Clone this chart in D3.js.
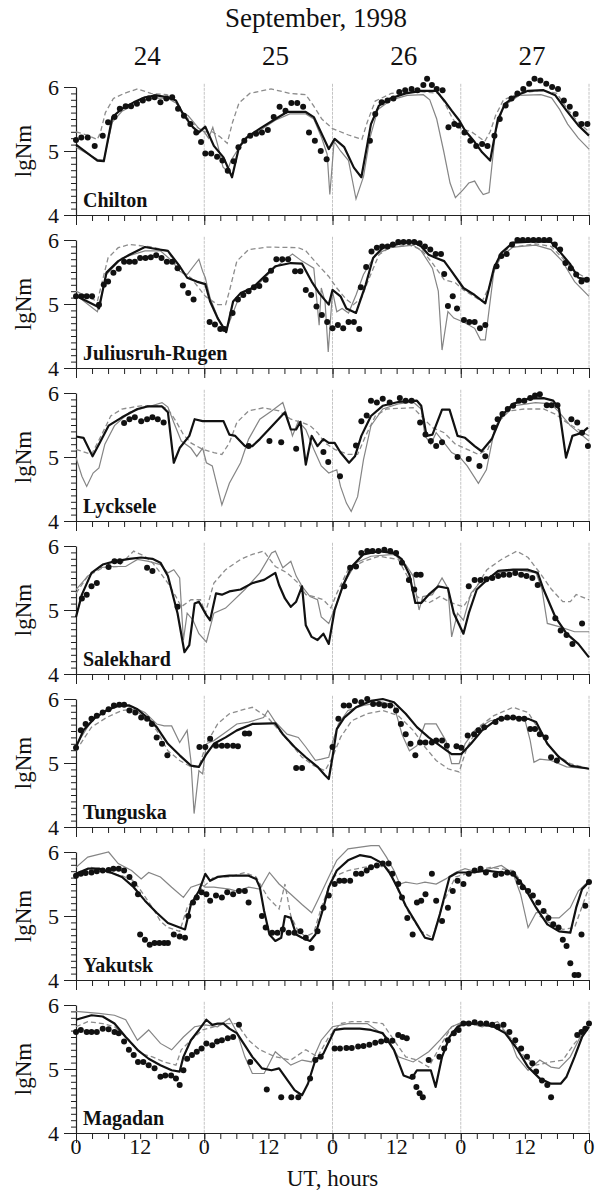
<!DOCTYPE html>
<html>
<head>
<meta charset="utf-8">
<script src="https://cdn.jsdelivr.net/npm/d3@7"></script>
<style>
  body { margin: 0; background: #fff; }
  text { font-family: "Liberation Serif", "Times New Roman", serif; fill: #111; }
</style>
</head>
<body>
<svg id="chart" width="597" height="1195"></svg>
<script>
// hours of the 4 days, values are lgNm
const dayLabels = ["24", "25", "26", "27"];
const hourLabels = [0, 12, 0, 12, 0, 12, 0, 12, 0];

// ---- Chilton
const chiltonObs = [[0,5.17],[1,5.21],[2.2,5.21],[3.5,5.08],[5,5.24],[6,5.45],[7.2,5.53],[8.2,5.66],[9.3,5.7],[10.3,5.7],[11.4,5.74],[12.5,5.79],[13.6,5.82],[14.7,5.84],[15.8,5.76],[16.9,5.82],[18,5.84],[19.1,5.66],[20.2,5.55],[21.4,5.42],[22.5,5.29],[23.4,5.14],[24.2,4.96],[25.3,4.96],[26.4,4.91],[27.4,4.85],[28.4,4.69],[29.5,4.84],[30.4,5.06],[31.5,5.16],[32.6,5.24],[33.7,5.27],[34.8,5.29],[35.9,5.33],[37,5.53],[38.1,5.69],[39.2,5.63],[40.3,5.75],[41.4,5.75],[42.5,5.69],[43.6,5.29],[44.7,5.16],[45.8,5.0],[46.9,4.87],[55,5.16],[56,5.58],[57.2,5.76],[58.3,5.79],[59.4,5.82],[60.5,5.92],[61.6,5.95],[62.8,5.97],[63.9,5.95],[65,6.03],[65.7,6.13],[66.6,6.03],[67.5,5.97],[68.6,5.95],[69.7,5.37],[70.8,5.42],[71.6,5.4],[72.7,5.29],[73.8,5.16],[74.9,5.08],[76,5.11],[77,5.08],[78.3,5.24],[79.3,5.5],[80.4,5.71],[81.5,5.82],[82.6,5.9],[83.7,5.97],[84.8,6.05],[85.8,6.13],[86.9,6.1],[88,6.05],[89.1,6.0],[90.2,5.97],[91.3,5.79],[92.4,5.69],[93.5,5.58],[94.6,5.42],[95.7,5.42]];
const chiltonThick = [[0,5.10],[4,4.85],[5.2,4.84],[6.8,5.53],[8.6,5.66],[10.8,5.76],[12.9,5.84],[15,5.87],[17.2,5.84],[18.7,5.79],[20,5.58],[21.9,5.37],[23,5.29],[24.2,5.38],[25.8,5.08],[27.6,4.90],[29.2,4.59],[30.5,5.06],[31.9,5.21],[34.4,5.35],[37.3,5.50],[39.5,5.61],[43,5.61],[44.5,5.53],[46.3,5.21],[47.3,5.03],[48.4,5.19],[50.2,5.06],[52,4.74],[53.4,4.59],[55.2,5.42],[56.7,5.71],[58.8,5.82],[61.7,5.90],[64.6,5.94],[67.4,5.94],[68.9,5.79],[70.3,5.63],[71.7,5.48],[72.8,5.32],[74.6,5.14],[76,4.98],[77.5,4.85],[78.9,5.48],[80.3,5.74],[82.5,5.87],[84.6,5.94],[87.5,5.95],[89.7,5.87],[91.8,5.63],[94,5.40],[96,5.24]];
const chiltonThin = [[0,5.06],[4,4.87],[5.2,4.86],[6.8,5.45],[8.6,5.62],[10.8,5.72],[12.9,5.8],[15,5.83],[17.2,5.82],[18.7,5.75],[20,5.6],[21,5.55],[22,5.45],[23,5.35],[24,5.3],[24.8,5.2],[25.6,5.37],[26.5,5.1],[27.5,4.75],[28.3,4.68],[29,4.85],[30.5,5.05],[32,5.2],[34.4,5.32],[37.3,5.48],[40,5.58],[43,5.58],[44.5,5.5],[46,5.2],[47,4.95],[47.5,4.32],[48.3,5.15],[49.5,5.0],[51,4.85],[52.4,4.25],[53.8,4.6],[55,5.2],[56.5,5.65],[59,5.8],[62,5.87],[65,5.88],[66.2,5.8],[67.5,5.5],[68.8,5.0],[70,4.5],[71,4.27],[72.5,4.4],[73.5,4.5],[74.6,4.53],[75.5,4.4],[76.2,4.32],[77.3,4.35],[78.5,5.3],[80,5.7],[83,5.87],[87,5.88],[89,5.83],[90.5,5.65],[92,5.42],[94,5.2],[96,5.03]];
const chiltonDash = [[0,5.3],[2,5.25],[4,5.18],[4.6,5.3],[5.5,5.6],[7,5.82],[9,5.9],[11.5,5.97],[14,5.9],[17,5.88],[18.5,5.8],[19.5,5.65],[21,5.5],[22.5,5.38],[24,5.3],[25.5,5.3],[27,5.22],[28.3,5.12],[29.3,5.45],[30.5,5.75],[32.5,5.9],[36.5,5.97],[40,5.9],[43,5.88],[44.5,5.7],[46,5.5],[48,5.35],[51,5.25],[53.5,5.18],[54.5,5.45],[56,5.78],[59,5.9],[64,5.93],[68,5.9],[69,5.75],[70.5,5.5],[72,5.35],[74,5.3],[76.5,5.15],[77.5,5.3],[78.5,5.55],[80,5.8],[83,5.9],[87,5.95],[90,5.9],[92,5.65],[94,5.45],[96,5.3]];

// ---- Juliusruh-Rugen
const juliusObs = [[0,5.12],[1,5.12],[2,5.12],[3,5.12],[4.3,4.99],[5.2,5.3],[6,5.35],[7,5.49],[8,5.55],[9,5.66],[10,5.66],[11,5.66],[12,5.72],[13,5.72],[14,5.73],[15,5.76],[16,5.72],[17,5.66],[18,5.66],[19,5.56],[20,5.29],[21,5.17],[22,5.07],[25,4.72],[26,4.68],[27,4.61],[27.8,4.61],[29.3,4.86],[30.3,5.07],[31.3,5.14],[32.3,5.2],[33.3,5.26],[34.3,5.28],[35.5,5.38],[36.5,5.52],[37.5,5.7],[38.6,5.7],[39.7,5.7],[41,5.51],[42,5.51],[43,5.22],[44,5.14],[45,4.96],[46,4.83],[47,4.72],[48,4.62],[49,4.67],[50,4.62],[51,4.72],[52,4.72],[53,4.61],[53.3,5.26],[54.3,5.58],[55.3,5.82],[56.3,5.88],[57.3,5.9],[58.3,5.9],[59.3,5.93],[60.3,5.97],[61.3,5.97],[62.3,5.97],[63.3,5.97],[64.3,5.95],[65.3,5.9],[66.3,5.85],[67.3,5.78],[68.3,5.78],[68.9,5.47],[69.6,4.97],[70.5,5.12],[71.3,4.93],[72.6,4.75],[73.6,4.72],[74.6,4.72],[75.6,4.62],[76.6,4.67],[78.7,5.59],[79.6,5.75],[80.6,5.78],[81.6,5.93],[82.6,6.0],[83.6,6.0],[84.6,6.0],[85.6,6.0],[86.6,6.0],[87.6,6.0],[88.6,6.0],[89.6,5.93],[90.6,5.85],[91.6,5.64],[92.6,5.56],[93.6,5.46],[94.6,5.35],[95.6,5.38]];
const juliusThick = [[0,5.13],[4,4.96],[4.3,4.93],[5.7,5.49],[7.9,5.67],[10,5.77],[12.9,5.89],[15,5.86],[17.2,5.83],[19.4,5.59],[20.8,5.41],[22.6,5.35],[24.2,5.31],[25.1,5.04],[26.5,4.78],[28.1,4.56],[29.4,5.04],[30.8,5.17],[33,5.25],[35,5.41],[37.3,5.59],[40.2,5.64],[42.3,5.63],[44.1,5.35],[45.5,5.17],[47.3,4.99],[48,5.22],[49.5,5.12],[50.6,4.93],[52.4,4.86],[54.2,5.3],[55.6,5.72],[57.4,5.88],[61,5.95],[63.1,5.97],[64.6,5.9],[66,5.77],[67.4,5.72],[68.9,5.67],[70.3,5.51],[72.5,5.25],[74.6,5.14],[76.6,5.01],[78.2,5.56],[79.6,5.8],[81.8,5.96],[86,5.98],[88.9,5.97],[90.4,5.83],[92.5,5.62],[94,5.41],[96,5.38]];
const juliusThin = [[0,5.14],[4,4.88],[5.7,5.46],[8.6,5.72],[12.9,5.83],[15.8,5.83],[18,5.67],[19.4,5.51],[20.8,5.46],[23,5.70],[23.7,5.51],[24.2,5.41],[25.1,5.09],[26.9,4.72],[28,4.57],[29,4.78],[30.4,5.08],[31.5,5.15],[34,5.3],[37,5.55],[40.5,5.78],[42.3,5.67],[44.5,5.56],[45.5,4.67],[45.9,5.25],[46.6,5.04],[47.2,4.25],[48,5.2],[48.8,4.88],[49.8,4.93],[51,4.86],[52.4,5.14],[53.8,5.46],[56,5.77],[58.8,5.88],[63.1,5.92],[64.6,5.83],[66.7,5.56],[67.8,5.2],[68.5,4.28],[69.6,4.88],[70.7,4.78],[72.5,4.72],[74.6,4.62],[75.7,4.44],[76.6,4.44],[78.2,5.51],[79.6,5.75],[81.8,5.89],[86,5.92],[88.9,5.85],[91,5.67],[93.3,5.35],[96,5.12]];
const juliusDash = [[0,5.2],[4,5.04],[6,5.72],[7.9,5.88],[10,5.93],[14.3,5.89],[17.2,5.83],[19.4,5.51],[21.5,5.41],[24.2,5.12],[26.5,4.99],[28,4.99],[28.7,5.2],[30.1,5.67],[32.3,5.85],[35.9,5.89],[41.6,5.88],[43,5.83],[45.2,5.62],[47.3,5.43],[48.8,5.25],[50.6,5.07],[51.9,4.99],[53.4,5.09],[54.9,5.41],[56.7,5.77],[58.8,5.89],[62.4,5.92],[64.6,5.85],[66.7,5.64],[68.9,5.38],[71,5.33],[72.5,5.22],[76,5.04],[77.5,5.3],[79,5.72],[81,5.88],[86,5.94],[88.9,5.9],[91,5.72],[93.3,5.51],[96,5.38]];

// ---- Lycksele
const lyckseleObs = [[9,5.53],[10,5.59],[11,5.62],[12.2,5.56],[13.3,5.59],[14.3,5.62],[15.3,5.59],[16.4,5.54],[32.3,5.17],[36.2,5.25],[38.4,5.23],[41.2,5.13],[46.3,5.08],[47.2,4.92],[49.4,4.7],[52.4,5.18],[53.4,5.56],[54.4,5.65],[55.2,5.88],[56.3,5.85],[57.4,5.91],[58.7,5.85],[60.6,5.92],[61.7,5.88],[62.8,5.88],[64.4,5.54],[65.4,5.35],[66.4,5.25],[67.4,5.17],[68.5,5.23],[71.4,5.0],[73.5,4.97],[75.5,4.86],[76.6,5.01],[78.2,5.46],[78.9,5.59],[79.8,5.67],[80.8,5.75],[81.8,5.8],[82.9,5.88],[83.9,5.88],[85,5.92],[85.9,5.96],[86.8,5.98],[88.1,5.81],[89,5.81],[90.1,5.81],[92.7,5.59],[93.8,5.54],[94.7,5.38],[95.8,5.17]];
const lyckseleThick = [[0,5.32],[1.4,5.30],[3.1,5.01],[4.3,5.2],[6.1,5.49],[8.6,5.62],[11.5,5.75],[13.3,5.79],[16.1,5.79],[17.2,5.7],[18.3,4.91],[19.4,5.14],[21.2,5.33],[22.2,5.59],[23.7,5.56],[25.5,5.56],[27.6,5.56],[28.7,5.35],[29.8,5.33],[31.6,5.17],[33,5.17],[34.4,5.28],[37.3,5.54],[39.1,5.7],[40.2,5.43],[41.2,5.43],[42,5.55],[43,4.88],[44.1,5.33],[45.2,5.17],[46.3,5.28],[47.3,5.22],[48.4,5.22],[49.5,5.07],[51.1,4.91],[52.2,5.01],[53.4,5.33],[55.2,5.64],[57.4,5.8],[60.3,5.86],[63.8,5.88],[64.6,5.8],[65.6,5.33],[66.7,5.35],[68.5,5.74],[69.9,5.74],[71.4,5.33],[72.8,5.3],[74.6,5.17],[75.9,5.09],[77.8,5.28],[79.6,5.64],[81.8,5.83],[84.6,5.91],[87.5,5.92],[89.3,5.88],[90.4,5.75],[91.7,4.99],[92.9,5.33],[94.7,5.38],[95.8,5.46]];
const lyckseleThin = [[0,4.99],[1.1,4.7],[2,4.54],[3.2,4.75],[4.3,4.83],[5.4,5.2],[7.2,5.49],[10,5.7],[12.9,5.77],[16.1,5.85],[17.2,5.78],[18.3,5.54],[19.7,5.25],[21.5,5.14],[22.6,5.01],[23.7,5.14],[24.4,4.91],[25.5,4.86],[27.3,4.25],[28.7,4.59],[30.8,4.91],[32.3,5.28],[34.4,5.59],[36.6,5.72],[38.7,5.85],[39.5,5.64],[40.5,5.33],[41.6,5.56],[43,5.43],[44.5,5.12],[45.9,4.86],[47.3,4.75],[48.8,4.8],[49.5,4.54],[50.6,4.28],[51.5,4.15],[52.7,4.38],[53.8,4.96],[55.2,5.49],[57.4,5.75],[60.3,5.83],[63.1,5.86],[64.6,5.75],[65.3,5.33],[66.4,5.2],[67.4,5.38],[68.9,5.22],[70.3,5.07],[71.7,5.01],[73.2,4.86],[75.3,4.59],[76.8,4.8],[78.2,5.38],[79.6,5.64],[81.8,5.8],[86,5.85],[88.9,5.83],[90.4,5.7],[92.5,5.49],[96,5.25]];
const lyckseleDash = [[0,5.12],[2.9,5.04],[4.7,5.33],[6.5,5.64],[8.6,5.75],[12.2,5.8],[15.8,5.8],[17.2,5.75],[18.7,5.56],[20.1,5.35],[21.5,5.22],[23.7,5.12],[25.8,5.07],[27.3,5.04],[28.7,5.22],[30.1,5.54],[32.3,5.72],[35.1,5.77],[38,5.72],[40.2,5.59],[42.3,5.54],[43.8,5.49],[45.2,5.38],[46.6,5.22],[48.4,5.12],[50.9,5.04],[52.7,5.04],[54.2,5.33],[56,5.64],[58.1,5.75],[63.1,5.77],[64.6,5.64],[66.7,5.46],[68.9,5.38],[71,5.2],[73.2,5.12],[75.3,5.04],[77.1,5.12],[78.9,5.54],[81.1,5.72],[83.9,5.75],[87.5,5.75],[89.7,5.67],[91.8,5.54],[94,5.43],[96,5.33]];

// ---- Salekhard
const salekhardObs = [[1.1,5.18],[2,5.24],[2.9,5.37],[3.9,5.42],[6.1,5.67],[7.2,5.76],[8.2,5.76],[13.3,5.66],[14.3,5.61],[19,5.05],[50.2,5.37],[51.3,5.66],[52.4,5.68],[53.4,5.89],[54.5,5.92],[55.5,5.92],[56.6,5.92],[57.7,5.94],[58.8,5.92],[59.9,5.89],[61,5.74],[62.3,5.47],[63.3,5.32],[63.7,5.55],[64.5,5.55],[73.5,5.37],[74.6,5.47],[75.7,5.47],[76.8,5.48],[77.9,5.5],[79,5.53],[80,5.55],[81.1,5.55],[82.2,5.58],[83.3,5.55],[84.3,5.53],[85.4,5.5],[86.4,5.39],[89.7,4.87],[90.7,4.68],[91.8,4.61],[92.9,4.47],[94.7,4.79]];
const salekhardThick = [[0,4.89],[1.1,5.24],[2.9,5.58],[5,5.71],[7.2,5.76],[10,5.8],[12.2,5.82],[14.3,5.8],[15.8,5.74],[17.2,5.53],[19,4.95],[20.3,4.34],[21.2,4.45],[22.2,5.1],[23,5.13],[24.4,4.92],[25.1,4.84],[26.2,5.26],[27.3,5.24],[28.7,5.29],[30.8,5.32],[33,5.42],[35.2,5.47],[37.3,5.58],[38,5.39],[39.1,5.18],[40.2,5.05],[41.2,5.13],[42.3,5.37],[43,4.76],[44.1,4.58],[45.2,4.53],[46.3,4.63],[47.3,4.47],[48.4,5.0],[49.9,5.37],[51.6,5.68],[53.8,5.87],[56.7,5.92],[59.5,5.89],[61,5.79],[62.4,5.55],[63.5,5.11],[64.6,5.11],[66,5.24],[67.8,5.37],[69.6,5.34],[70.7,4.95],[72.5,4.63],[73.5,4.95],[75,5.32],[76.9,5.47],[79,5.61],[81.8,5.63],[84.6,5.63],[86.4,5.58],[87.5,5.32],[89.7,4.89],[91.8,4.63],[94,4.47],[96,4.26]];
const salekhardThin = [[0,5.32],[2.2,5.53],[4.3,5.66],[6.5,5.68],[9.3,5.68],[11.5,5.79],[13.6,5.76],[15.8,5.71],[17.2,5.58],[18.3,5.63],[19.4,5.5],[20.1,4.53],[20.8,4.95],[21.9,4.84],[23,4.63],[24.4,4.5],[25.8,4.95],[28,5.03],[31.6,5.32],[34.4,5.58],[36.6,5.89],[37.3,5.92],[38.7,5.66],[40.2,5.76],[41.2,5.53],[42.3,5.37],[43.8,5.21],[45.2,5.16],[45.9,4.89],[47.3,4.79],[48.8,5.11],[50.2,5.42],[52.4,5.74],[55.2,5.84],[59.5,5.87],[61.7,5.71],[63.1,5.53],[64.2,5.0],[64.9,5.21],[66.7,5.24],[68.5,5.5],[69.6,5.34],[70.3,4.58],[71.4,4.95],[72.5,4.84],[73.9,5.26],[76,5.47],[78.9,5.58],[82.5,5.63],[86.1,5.58],[87.2,5.32],[88.2,4.79],[90.4,4.74],[93.3,4.66],[96,4.66]];
const salekhardDash = [[0,5.26],[2.2,5.53],[5,5.66],[7.9,5.68],[10.8,5.92],[12.9,5.84],[14.3,5.74],[15.8,5.58],[17.2,5.42],[18.7,5.21],[19.7,5.05],[21.5,5.16],[23.3,5.16],[24.2,4.95],[25.8,5.42],[28,5.63],[30.8,5.79],[33,5.87],[35.1,5.92],[37.3,5.68],[39.5,5.58],[41.6,5.42],[43,5.24],[44.5,5.21],[46.3,5.16],[47.7,5.03],[48.8,5.26],[50.9,5.63],[53.8,5.76],[56.7,5.84],[60.3,5.79],[62.4,5.47],[63.8,5.21],[66,5.11],[68.1,5.21],[70.3,5.11],[72.5,5.05],[74.6,5.32],[76.9,5.63],[79.6,5.79],[82.5,5.92],[84.6,5.82],[86.8,5.58],[89,5.32],[91.1,5.13],[92.5,5.13],[93.6,5.24],[96,5.16]];

// ---- Tunguska
const tunguskaObs = [[0,5.24],[0.9,5.51],[1.8,5.61],[2.9,5.69],[3.9,5.74],[5,5.79],[6.1,5.84],[7.1,5.9],[8.1,5.91],[9,5.91],[10,5.82],[11.1,5.79],[12.2,5.71],[13.3,5.69],[14.2,5.61],[15.1,5.4],[16.1,5.3],[17.1,5.12],[23.1,5.25],[24.2,5.25],[25.1,5.38],[26.2,5.27],[27.3,5.27],[28.3,5.27],[29.4,5.27],[30.3,5.26],[31.6,5.46],[32.4,5.46],[41.2,4.92],[42.3,4.92],[48,5.25],[49.1,5.69],[50.1,5.9],[51.1,5.9],[52.2,5.97],[53.4,5.95],[54.5,6.0],[55.6,5.92],[56.7,5.92],[57.7,5.9],[58.8,5.9],[59.9,5.82],[60.8,5.61],[61.7,5.45],[62.6,5.3],[63.5,5.12],[64.4,5.32],[65.4,5.32],[66.6,5.32],[67.4,5.35],[68.5,5.35],[69.4,5.27],[71.2,5.26],[72.1,5.24],[73.3,5.43],[74.5,5.45],[75.3,5.51],[76.4,5.56],[78.5,5.64],[79.6,5.69],[80.7,5.71],[81.8,5.71],[82.9,5.69],[83.9,5.69],[85,5.53],[85.9,5.53],[86.8,5.45],[87.9,5.4],[88.9,5.09],[90,5.04]];
const tunguskaThick = [[0,5.25],[1.4,5.51],[3.6,5.71],[5.7,5.82],[7.9,5.9],[10,5.9],[11.5,5.84],[12.9,5.74],[15.1,5.56],[17.2,5.3],[19.4,5.12],[21.5,4.96],[23,4.94],[24.4,5.14],[25.8,5.3],[28,5.4],[30.1,5.51],[33,5.61],[36.6,5.62],[37.3,5.62],[38.7,5.45],[40.9,5.25],[43,5.09],[45.2,4.94],[46.6,4.81],[47.3,4.75],[48,5.09],[48.8,5.53],[50.2,5.71],[52.4,5.87],[55.2,5.97],[57.4,6.0],[59.5,5.95],[61.7,5.77],[63.8,5.56],[66,5.4],[68.1,5.27],[70.3,5.14],[72.1,5.14],[73.9,5.3],[76,5.51],[78.9,5.69],[82.5,5.71],[84.6,5.69],[86.1,5.64],[88.2,5.3],[90.4,5.09],[92.5,4.96],[96,4.91]];
const tunguskaThin = [[0,5.27],[2.9,5.66],[5.7,5.82],[8.6,5.9],[10.8,5.87],[12.9,5.79],[15.1,5.61],[16.5,5.58],[17.9,5.58],[19.4,5.32],[20.8,5.51],[21.5,5.04],[22.1,4.21],[23,4.88],[23.7,4.83],[24.4,5.3],[25.8,5.35],[28,5.48],[30.1,5.61],[32.3,5.64],[35.1,5.71],[35.9,5.82],[37.3,5.64],[39.5,5.45],[41.6,5.4],[43,5.25],[44.8,5.04],[45.9,5.06],[47.3,5.09],[48,5.32],[49.1,5.61],[50.9,5.82],[53.8,5.9],[57.4,5.95],[59.5,5.9],[61,5.45],[62.4,5.19],[63.8,5.27],[65.3,5.61],[67.4,5.61],[69.2,5.35],[70.3,4.99],[71.7,4.99],[72.8,5.3],[74.6,5.51],[77.5,5.66],[81.8,5.71],[83.9,5.71],[85,5.35],[85.7,5.01],[86.8,5.06],[88.9,5.04],[91.8,4.94],[96,4.91]];
const tunguskaDash = [[0,5.19],[2.9,5.56],[5.7,5.71],[8.6,5.82],[10.8,5.84],[12.9,5.71],[15.1,5.51],[17.2,5.19],[19.4,5.04],[21.5,4.94],[23,4.94],[24.4,5.3],[26.5,5.61],[28.7,5.77],[31.6,5.84],[33,5.87],[35.9,5.71],[38,5.51],[40.2,5.3],[42.3,5.09],[44.5,4.96],[46.6,4.88],[48,5.09],[49.5,5.4],[51.6,5.66],[54.5,5.77],[57.4,5.82],[60.3,5.74],[63.1,5.51],[65.3,5.25],[67.4,5.04],[69.6,4.91],[71.7,4.86],[73.2,5.25],[75.3,5.56],[78.2,5.74],[81.8,5.87],[84.6,5.79],[87.5,5.4],[89.7,5.14],[92.5,4.99],[96,4.91]];

// ---- Yakutsk
const yakutskObs = [[0,5.63],[0.9,5.66],[1.8,5.67],[2.9,5.68],[3.9,5.7],[5,5.71],[6.1,5.72],[7,5.74],[8,5.74],[9,5.71],[10,5.61],[10.9,5.5],[11.6,5.34],[12,4.71],[12.9,4.63],[13.8,4.55],[14.7,4.58],[15.6,4.58],[16.5,4.58],[17.2,4.58],[18.3,4.71],[19.4,4.68],[20.4,4.66],[21,5.0],[21.9,5.21],[22.6,5.29],[23.5,5.37],[24.4,5.34],[25.1,5.24],[26.2,5.32],[27.3,5.29],[28.3,5.37],[29.4,5.34],[30.5,5.39],[31.6,5.39],[32.3,5.21],[34.8,5.0],[35.5,4.82],[36.7,4.74],[37.7,4.74],[38.7,4.79],[39.8,4.74],[40.9,4.74],[42,4.76],[43,4.66],[44.1,4.5],[45.2,4.76],[46.3,5.13],[47.3,5.32],[48.4,5.5],[49.3,5.55],[50.2,5.55],[51.3,5.55],[52.4,5.66],[53.4,5.66],[54.4,5.71],[55.2,5.76],[56.3,5.79],[57.4,5.82],[58.5,5.82],[59.2,5.66],[60.3,5.5],[61,5.29],[62,4.97],[63,4.71],[63.8,5.21],[64.6,5.24],[65.4,5.34],[66.6,5.66],[67.4,5.24],[68.5,4.92],[69.6,5.13],[70.5,5.39],[71.4,5.55],[72.5,5.5],[73.5,5.66],[74.6,5.71],[75.7,5.74],[76.7,5.68],[78.5,5.64],[79.6,5.66],[80.7,5.68],[81.8,5.66],[82.9,5.53],[83.6,5.45],[84.6,5.39],[85.5,5.32],[86.5,5.21],[87.5,5.08],[88.4,4.97],[89.3,4.87],[90.3,4.82],[91.1,4.63],[91.8,4.53],[92.5,4.26],[93.3,4.08],[94,4.08],[94.6,4.71],[95.3,5.16],[96,5.53]];
const yakutskThick = [[0,5.66],[2.2,5.74],[4.3,5.74],[6.5,5.68],[8.6,5.61],[10.8,5.45],[12.9,5.24],[15.1,5.05],[17.2,4.89],[19.4,4.82],[20.4,4.79],[21.5,5.18],[23,5.39],[24.2,5.66],[25.1,5.55],[26.5,5.61],[28.7,5.63],[32.3,5.63],[33.7,5.58],[34.4,5.45],[35.2,5.08],[36.2,4.71],[37.3,4.61],[38.4,4.66],[39.1,5.0],[40.2,4.97],[41.2,4.71],[42.3,4.66],[43.8,4.61],[44.8,4.71],[46.3,5.13],[47.3,5.45],[48.8,5.71],[50.9,5.87],[53.1,5.95],[55.2,5.92],[57.4,5.82],[58.8,5.66],[60.3,5.42],[61.7,5.16],[63.8,4.87],[65.3,4.66],[66.7,4.63],[68.1,5.03],[69.9,5.61],[71.4,5.68],[73.9,5.68],[76.8,5.71],[79.6,5.68],[81.8,5.66],[83.9,5.45],[86.1,5.13],[88.2,4.87],[90.4,4.76],[92.5,4.74],[93.6,5.13],[94.7,5.42],[96,5.53]];
const yakutskThin = [[0,5.76],[2.2,5.92],[6.1,6.0],[7.9,5.82],[10.4,5.71],[12.2,5.58],[13.6,5.68],[15.8,5.61],[17.9,5.45],[20.1,5.29],[21.5,5.45],[23.3,5.5],[24.2,5.45],[25.8,5.45],[28.7,5.42],[30.1,5.39],[32.3,5.45],[34.4,5.42],[36.2,5.68],[38,5.5],[40.2,5.34],[42.3,5.18],[44.1,5.05],[45.2,5.24],[47.3,5.61],[48.8,5.87],[50.9,6.05],[55.2,6.1],[56.7,6.1],[58.1,5.92],[59.5,5.71],[60.6,5.5],[61.7,5.53],[63.8,5.5],[65.3,5.53],[67.4,5.5],[69.2,5.58],[71,5.68],[72.8,5.74],[75.3,5.68],[77.5,5.74],[79.6,5.79],[81.8,5.66],[83.2,5.34],[84.6,4.82],[86.1,5.05],[87.5,5.08],[89,4.97],[90.4,4.97],[92.5,5.13],[94,5.39],[96,5.55]];
const yakutskDash = [[0,5.66],[2.9,5.76],[5.7,5.68],[8.6,5.63],[10.8,5.55],[12.2,5.39],[14.3,5.13],[15.8,4.92],[17.2,4.82],[19.4,4.76],[20.8,5.13],[23,5.39],[25.8,5.61],[28.7,5.61],[31.6,5.68],[33.7,5.61],[35.9,5.29],[38,5.11],[39.1,5.5],[40.2,5.0],[41.6,4.76],[43,4.68],[44.5,4.74],[45.9,5.13],[48,5.61],[50.9,5.71],[53.8,5.76],[56.7,5.79],[58.8,5.71],[60.3,5.39],[62.4,5.03],[64.6,4.76],[66.7,4.66],[68.9,5.24],[71,5.61],[73.9,5.68],[77.5,5.76],[81.8,5.71],[84.6,5.39],[86.8,5.0],[89,4.87],[91.1,4.79],[93.3,4.82],[96,5.45]];

// ---- Magadan
const magadanObs = [[0,5.58],[0.9,5.61],[2,5.58],[2.9,5.58],[3.9,5.58],[5,5.63],[6.1,5.62],[7.2,5.58],[8,5.56],[9,5.43],[9.9,5.3],[10.8,5.22],[11.6,5.11],[12.6,5.11],[13.6,5.06],[14.7,5.01],[15.8,4.88],[16.7,4.9],[17.8,4.9],[18.7,4.85],[19.4,4.75],[20.1,4.98],[20.8,5.16],[21.7,5.22],[22.6,5.27],[23.5,5.32],[24.4,5.4],[25.5,5.37],[26.4,5.43],[27.3,5.45],[28.4,5.48],[29.4,5.5],[30.5,5.69],[32.6,5.11],[35.7,4.68],[38.4,4.56],[40.3,4.56],[41.6,4.56],[43.8,4.85],[44.8,5.14],[45.8,5.19],[48.4,5.32],[49.4,5.32],[50.6,5.33],[51.6,5.33],[52.8,5.35],[53.8,5.36],[54.9,5.38],[56,5.41],[57.1,5.43],[58.1,5.45],[59.2,5.44],[60.3,5.53],[61.1,5.5],[61.9,5.48],[63,4.88],[63.7,4.72],[64.3,4.62],[64.9,4.56],[66,5.14],[68,5.19],[68.9,5.32],[69.6,5.45],[70.7,5.56],[71.6,5.61],[72.5,5.71],[73.5,5.71],[74.6,5.73],[75.7,5.71],[76.8,5.71],[77.9,5.69],[78.9,5.66],[80,5.69],[81.1,5.58],[82.2,5.45],[83.3,5.32],[84.4,5.19],[85.4,5.09],[86.1,4.96],[87.2,4.82],[88.2,4.75],[88.9,4.56],[93.8,5.53],[94.6,5.58],[95.3,5.63],[96,5.71]];
const magadanThick = [[0,5.77],[2.9,5.84],[5,5.82],[7.2,5.71],[9.3,5.5],[11.5,5.3],[13.6,5.16],[15.8,5.06],[17.9,4.98],[19.4,4.96],[20.1,5.19],[21.5,5.45],[23,5.61],[24.4,5.77],[25.5,5.69],[26.5,5.71],[27.6,5.71],[28.7,5.63],[30.1,5.56],[31.6,5.37],[33,5.19],[34.8,5.01],[36.6,4.98],[38,5.01],[39.1,4.88],[40.9,4.67],[42.3,4.59],[43.4,4.77],[44.8,5.14],[46.3,5.24],[48.4,5.61],[50.2,5.63],[53.1,5.63],[55.2,5.61],[57.4,5.56],[59.5,5.3],[61.3,4.9],[62.8,4.85],[63.8,4.98],[65.3,4.98],[66.4,4.98],[67.3,4.72],[68.5,5.19],[69.9,5.5],[71.4,5.66],[72.8,5.71],[75.3,5.71],[78.2,5.66],[80.3,5.56],[82.5,5.32],[84.6,5.03],[86.8,4.85],[88.9,4.77],[90.7,4.77],[91.8,4.88],[93.3,5.19],[94.7,5.5],[96,5.66]];
const magadanThin = [[0,5.9],[4.3,5.87],[7.2,5.84],[9.3,5.77],[11.5,5.45],[13.6,5.61],[15.8,5.4],[17.9,5.3],[20.1,5.5],[22.2,5.66],[24.2,5.69],[26.5,5.66],[28.7,5.79],[30.1,5.58],[31.6,5.19],[33,4.93],[35.2,4.93],[37.3,5.27],[40.2,5.06],[42.3,5.14],[44.1,5.11],[45.9,5.45],[48,5.66],[50.9,5.71],[54.5,5.71],[58.1,5.5],[60.3,5.19],[63.1,5.11],[66,5.27],[68.1,5.45],[70.3,5.66],[72.5,5.74],[76,5.66],[78.9,5.74],[81.1,5.5],[82.5,5.19],[84.6,4.98],[86.8,5.14],[88.9,5.03],[90.4,5.01],[92.5,5.19],[94.7,5.56],[96,5.69]];
const magadanDash = [[0,5.66],[2.2,5.74],[5,5.71],[7.2,5.66],[10,5.45],[12.2,5.24],[14.3,5.19],[16.5,5.11],[18.7,5.06],[19.7,5.3],[21.5,5.45],[23.7,5.61],[25.8,5.66],[28,5.71],[30.1,5.71],[32.3,5.45],[34.4,5.3],[37.3,5.19],[40.2,5.14],[43,5.3],[45.2,5.19],[47.3,5.5],[49.5,5.71],[51.6,5.74],[54.5,5.74],[57.4,5.71],[59.5,5.45],[61.7,5.19],[63.8,5.14],[66,5.03],[68.1,5.35],[70.3,5.66],[73.2,5.74],[76,5.71],[78.9,5.69],[81.8,5.45],[83.9,5.19],[86.1,5.06],[88.9,5.11],[91.1,5.14],[93.3,5.4],[96,5.66]];

const stations = [
  {name: "Chilton",         obs: chiltonObs,   thick: chiltonThick,   thin: chiltonThin,   dash: chiltonDash},
  {name: "Juliusruh-Rugen", obs: juliusObs,    thick: juliusThick,    thin: juliusThin,    dash: juliusDash},
  {name: "Lycksele",        obs: lyckseleObs,  thick: lyckseleThick,  thin: lyckseleThin,  dash: lyckseleDash},
  {name: "Salekhard",       obs: salekhardObs, thick: salekhardThick, thin: salekhardThin, dash: salekhardDash},
  {name: "Tunguska",        obs: tunguskaObs,  thick: tunguskaThick,  thin: tunguskaThin,  dash: tunguskaDash},
  {name: "Yakutsk",         obs: yakutskObs,   thick: yakutskThick,   thin: yakutskThin,   dash: yakutskDash},
  {name: "Magadan",         obs: magadanObs,   thick: magadanThick,   thin: magadanThin,   dash: magadanDash},
];

// layout: top of each panel (lgNm = 6), panel height for 4..6
const frame = {left: 76, right: 589, top: 87, step: 153, height: 128};
const x = d3.scaleLinear([0, 96], [frame.left, frame.right]);

const svg = d3.select("#chart");

svg.append("text").text("September, 1998")
  .attr("x", 316).attr("y", 27)
  .attr("text-anchor", "middle")
  .style("font-size", "27px");

svg.selectAll("text.day").data(dayLabels).join("text")
  .attr("class", "day")
  .attr("x", (d, i) => x(i * 24 + 12) + 7)
  .attr("y", 65)
  .attr("text-anchor", "middle")
  .style("font-size", "27px")
  .text(d => d);

stations.forEach((st, i) => {
  const top = frame.top + frame.step * i;
  const y = d3.scaleLinear([4, 6], [top + frame.height, top]);
  const g = svg.append("g");

  // day separators
  g.selectAll("line.sep").data([24, 48, 72, 96]).join("line")
    .attr("x1", d => x(d)).attr("x2", d => x(d))
    .attr("y1", y(6.05)).attr("y2", y(4))
    .attr("stroke", "#c4c4c4").attr("stroke-width", 1).attr("stroke-dasharray", "3,1");

  // y axis: minor + major ticks
  g.append("g").attr("transform", `translate(${frame.left},0)`)
    .call(d3.axisLeft(y).tickValues(d3.range(40, 61).map(v => v / 10)).tickSize(5).tickSizeOuter(0).tickFormat(""))
    .call(a => a.selectAll("line").attr("stroke", "#222"))
    .call(a => a.select(".domain").attr("stroke", "#222").attr("stroke-width", 1.2));
  g.append("g").attr("transform", `translate(${frame.left},0)`)
    .call(d3.axisLeft(y).tickValues([4, 5, 6]).tickSize(12).tickPadding(5).tickFormat(d3.format("d")))
    .call(a => a.select(".domain").remove())
    .call(a => a.selectAll("line").attr("stroke", "#222"))
    .call(a => a.selectAll("text").style("font-size", "22px").style("font-family", "Liberation Serif, serif"));

  // x axis: 3-hour ticks, longer at day boundaries
  g.append("g").attr("transform", `translate(0,${y(4)})`)
    .call(d3.axisBottom(x).tickValues(d3.range(0, 97, 3)).tickSize(6).tickSizeOuter(0).tickFormat(""))
    .call(a => a.selectAll("line").attr("stroke", "#222"))
    .call(a => a.select(".domain").attr("stroke", "#222").attr("stroke-width", 1.2));
  g.append("g").attr("transform", `translate(0,${y(4)})`)
    .call(d3.axisBottom(x).tickValues([0, 24, 48, 72, 96]).tickSize(10).tickFormat(""))
    .call(a => a.select(".domain").remove())
    .call(a => a.selectAll("line").attr("stroke", "#222"));

  // y label
  g.append("text").text("lgNm")
    .attr("transform", `translate(31,${y(5)}) rotate(-90)`)
    .attr("text-anchor", "middle")
    .style("font-size", "23px");

  // station name
  g.append("text").text(st.name)
    .attr("x", 83).attr("y", y(4) - 8)
    .style("font-size", "20px").style("font-weight", "bold");

  const line = d3.line().x(d => x(d[0])).y(d => y(d[1]));

  g.append("path").datum(st.dash).attr("d", line)
    .attr("fill", "none").attr("stroke", "#8c8c8c").attr("stroke-width", 1.3).attr("stroke-dasharray", "5,3");
  g.append("path").datum(st.thin).attr("d", line)
    .attr("fill", "none").attr("stroke", "#858585").attr("stroke-width", 1.2);
  g.append("path").datum(st.thick).attr("d", line)
    .attr("fill", "none").attr("stroke", "#111").attr("stroke-width", 2.2).attr("stroke-linejoin", "round");

  g.append("g").selectAll("circle").data(st.obs).join("circle")
    .attr("cx", d => x(d[0])).attr("cy", d => y(d[1]))
    .attr("r", 3).attr("fill", "#111");

  // hour labels under the last panel
  if (i === stations.length - 1) {
    g.selectAll("text.hour").data(hourLabels).join("text")
      .attr("class", "hour")
      .attr("x", (d, k) => x(k * 12))
      .attr("y", y(4) + 21)
      .attr("text-anchor", "middle")
      .style("font-size", "22px")
      .text(d => d);
    g.append("text").text("UT, hours")
      .attr("x", x(48)).attr("y", y(4) + 53)
      .attr("text-anchor", "middle")
      .style("font-size", "23px");
  }
});
</script>
</body>
</html>
